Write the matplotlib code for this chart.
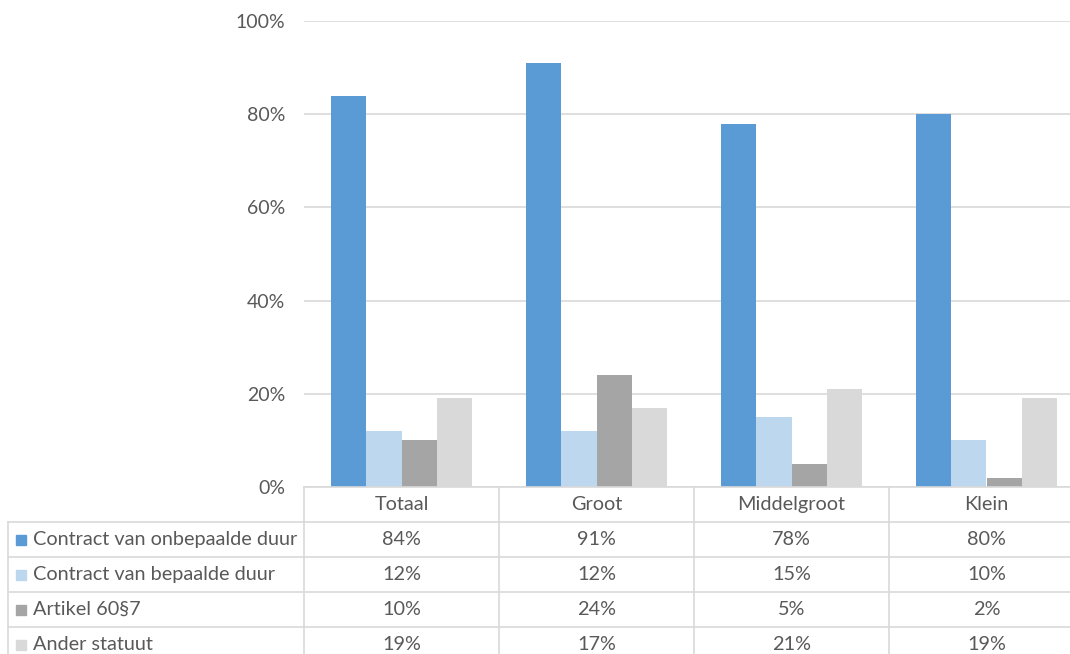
import numpy as np
import matplotlib.pyplot as plt
from matplotlib.patches import Rectangle

categories = ['Totaal', 'Groot', 'Middelgroot', 'Klein']
series = ['Contract van onbepaalde duur', 'Contract van bepaalde duur',
          'Artikel 60§7', 'Ander statuut']
onbepaald = [84, 91, 78, 80]
bepaald = [12, 12, 15, 10]
artikel = [10, 24, 5, 2]
ander = [19, 17, 21, 19]
values = [onbepaald, bepaald, artikel, ander]
yticks = [0, 20, 40, 60, 80, 100]

colors = ['#5B9BD5', '#BDD7EE', '#A5A5A5', '#D9D9D9']
txt = '#595959'
line = '#D9D9D9'
W, H = 1070, 654
font = dict(family=['Lato', 'DejaVu Sans'], color=txt)


def fx(x):
    return x / W


def fy(y):
    return 1 - y / H


fig = plt.figure(figsize=(W / 100, H / 100), dpi=100)

# plot area: left 304px, right 1084px (runs off the canvas), 0% at 487px, 100% at 21px
ax = fig.add_axes([fx(304), fy(487), (1084 - 304) / W, (487 - 21) / H])
n = len(categories)
x = np.arange(n)
bw = 0.182
for i, vals in enumerate(values):
    ax.bar(x + (i - 1.5) * bw, vals, width=bw, color=colors[i], zorder=3)
ax.set_xlim(-0.5, n - 0.5)
ax.set_ylim(0, 100)
ax.set_yticks(yticks)
ax.set_yticklabels([f'{t}%' for t in yticks], fontsize=14, **font)
ax.set_xticks([])
ax.tick_params(axis='y', length=0, pad=13.5)
ax.grid(axis='y', color=line, lw=1.2, zorder=0)
for s in ax.spines.values():
    s.set_visible(False)

# data table underneath the bars
row_h = 35
top = 487
col_x = [304 + 195 * k for k in range(n + 1)]
fs = 14.3


def hline(y, x0, x1):
    fig.add_artist(plt.Line2D([fx(x0), fx(x1)], [fy(y), fy(y)], color=line, lw=1.2))


def vline(xp, y0, y1):
    fig.add_artist(plt.Line2D([fx(xp), fx(xp)], [fy(y0), fy(y1)], color=line, lw=1.2))


hline(top, 304, 1084)
for r in range(1, 5):
    hline(top + r * row_h, 8, 1084)
for xp in col_x:
    vline(xp, top, H + 5)
vline(8, top + row_h, H + 5)

for k, c in enumerate(categories):
    fig.text(fx((col_x[k] + col_x[k + 1]) / 2), fy(top + row_h / 2), c,
             ha='center', va='center', fontsize=fs, **font)

for r, (name, vals) in enumerate(zip(series, values)):
    yc = top + (r + 1.5) * row_h
    fig.add_artist(Rectangle((fx(16), fy(yc + 5)), 10 / W, 10 / H,
                             color=colors[r], transform=fig.transFigure))
    fig.text(fx(33), fy(yc), name, ha='left', va='center', fontsize=fs, **font)
    for k, v in enumerate(vals):
        fig.text(fx((col_x[k] + col_x[k + 1]) / 2), fy(yc), f'{v}%',
                 ha='center', va='center', fontsize=fs, **font)

fig.savefig('out.png', dpi=100)
